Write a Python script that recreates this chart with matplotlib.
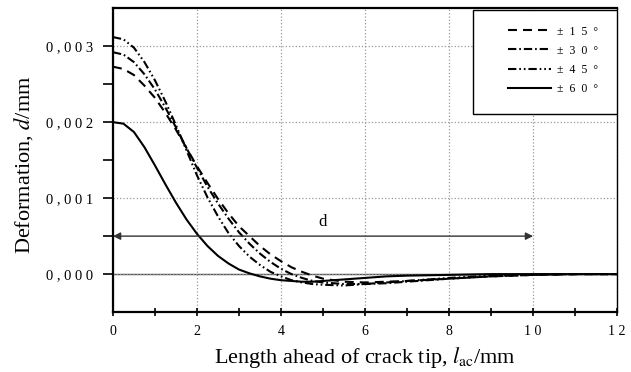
import numpy as np
import matplotlib.pyplot as plt
from matplotlib.patches import Rectangle

plt.rcParams['font.family'] = ['Liberation Serif', 'DejaVu Serif']
plt.rcParams['mathtext.fontset'] = 'stix'

# deformation ahead of the crack tip
x = [0, 0.25, 0.5, 0.75, 1.0, 1.25, 1.5, 1.75, 2.0, 2.25, 2.5, 2.75, 3.0, 3.25, 3.5, 3.75,
     4.0, 4.25, 4.5, 4.75, 5.0, 5.5, 6.0, 6.5, 7.0, 8.0, 9.0, 10.0, 11.0, 12.0]
d15 = [0.00273, 0.00270, 0.00262, 0.00248, 0.00232, 0.00212, 0.00190, 0.00166, 0.00142, 0.00120,
       0.00099, 0.00080, 0.00063, 0.00050, 0.00037, 0.00026, 0.00017, 0.00009, 0.00003, -0.00002,
       -0.00006, -0.00010, -0.00011, -0.00010, -0.00009, -0.00006, -0.00003, -0.00001, 0.0, 0.0]
d30 = [0.00292, 0.00289, 0.00279, 0.00263, 0.00243, 0.00219, 0.00193, 0.00166, 0.00140, 0.00115,
       0.00093, 0.00073, 0.00055, 0.00040, 0.00027, 0.00016, 0.00007, 0.00000, -0.00005, -0.00009,
       -0.00011, -0.00013, -0.00013, -0.00012, -0.00010, -0.00006, -0.00003, -0.00001, 0.0, 0.0]
d45 = [0.00312, 0.00309, 0.00298, 0.00279, 0.00255, 0.00227, 0.00196, 0.00163, 0.00130, 0.00101,
       0.00076, 0.00054, 0.00037, 0.00023, 0.00012, 0.00003, -0.00003, -0.00008, -0.00011, -0.00013,
       -0.00014, -0.00015, -0.00013, -0.00011, -0.00009, -0.00005, -0.00002, -0.00001, 0.0, 0.0]
d60 = [0.00200, 0.00198, 0.00187, 0.00167, 0.00143, 0.00118, 0.00094, 0.00072, 0.00053, 0.00037,
       0.00024, 0.00014, 0.00006, 0.00001, -0.00003, -0.00006, -0.00008, -0.00009, -0.00010, -0.00010,
       -0.00009, -0.00007, -0.00005, -0.00003, -0.00002, -0.00001, 0.0, 0.0, 0.0, 0.0]

series = [d15, d30, d45, d60]
labels = ['±  1  5  °', '±  3  0  °', '±  4  5  °', '±  6  0  °']
styles = [(0, (4.3, 2.9)), (0, (4.0, 1.4, 0.8, 1.4)), (0, (4.0, 1.4, 0.8, 1.4, 0.8, 1.4)), '-']

xticks = [0, 2, 4, 6, 8, 10, 12]
xticklabels = ['0', '2', '4', '6', '8', '1 0', '1 2']
yticks = [0.0, 0.001, 0.002, 0.003]
yticklabels = ['0 , 0 0 0', '0 , 0 0 1', '0 , 0 0 2', '0 , 0 0 3']

fig = plt.figure(figsize=(6.31, 3.72), dpi=100)
ax = fig.add_axes([0.179, 0.161, 0.799, 0.817])

for y, lab, ls in zip(series, labels, styles):
    ax.plot(x, y, color='black', linestyle=ls, linewidth=1.5, label=lab)

ax.set_xlim(0, 12)
ax.set_ylim(-0.0005, 0.0035)

ax.set_xticks(xticks)
ax.set_xticklabels(xticklabels, fontsize=10)
ax.set_xticks(np.arange(1, 12, 2), minor=True)
ax.set_yticks(yticks)
ax.set_yticklabels(yticklabels, fontsize=10.5)
ax.set_yticks([0.0005, 0.0015, 0.0025], minor=True)
ax.tick_params(axis='x', which='both', direction='inout', length=6, width=1.2, pad=6)
ax.tick_params(axis='y', which='both', direction='out', length=7, width=1.2, pad=7)

ax.grid(True, which='major', linestyle=':', color='#999999', linewidth=0.9)
ax.axhline(0, color='#555555', linewidth=1.0, zorder=1)

for side in ['left', 'bottom', 'top']:
    ax.spines[side].set_linewidth(1.6)
ax.spines['right'].set_linewidth(1.0)

# dimension arrow d
ax.annotate('', xy=(0, 0.0005), xytext=(10, 0.0005),
            arrowprops=dict(arrowstyle='<|-|>', color='#333333', lw=1.0,
                            mutation_scale=11, shrinkA=0, shrinkB=0))
ax.text(5, 0.00058, 'd', fontsize=12, ha='center', va='bottom')

ax.set_xlabel('Length ahead of crack tip, $l_{\\rm ac}$/mm', fontsize=16, labelpad=5)
ax.set_ylabel('Deformation, $d$/mm', fontsize=16, labelpad=8, y=0.484)

# legend box
ax.add_patch(Rectangle((0.714, 0.651), 0.286, 0.342, transform=ax.transAxes,
                       facecolor='white', edgecolor='black', linewidth=1.0, zorder=3))
leg = ax.legend(loc='upper left', bbox_to_anchor=(0.784, 0.943), frameon=False,
                fontsize=8.5, handlelength=3.65, handletextpad=0.5, labelspacing=0.60,
                borderpad=0, borderaxespad=0)
leg.set_zorder(4)

plt.savefig('out.png', dpi=100)
